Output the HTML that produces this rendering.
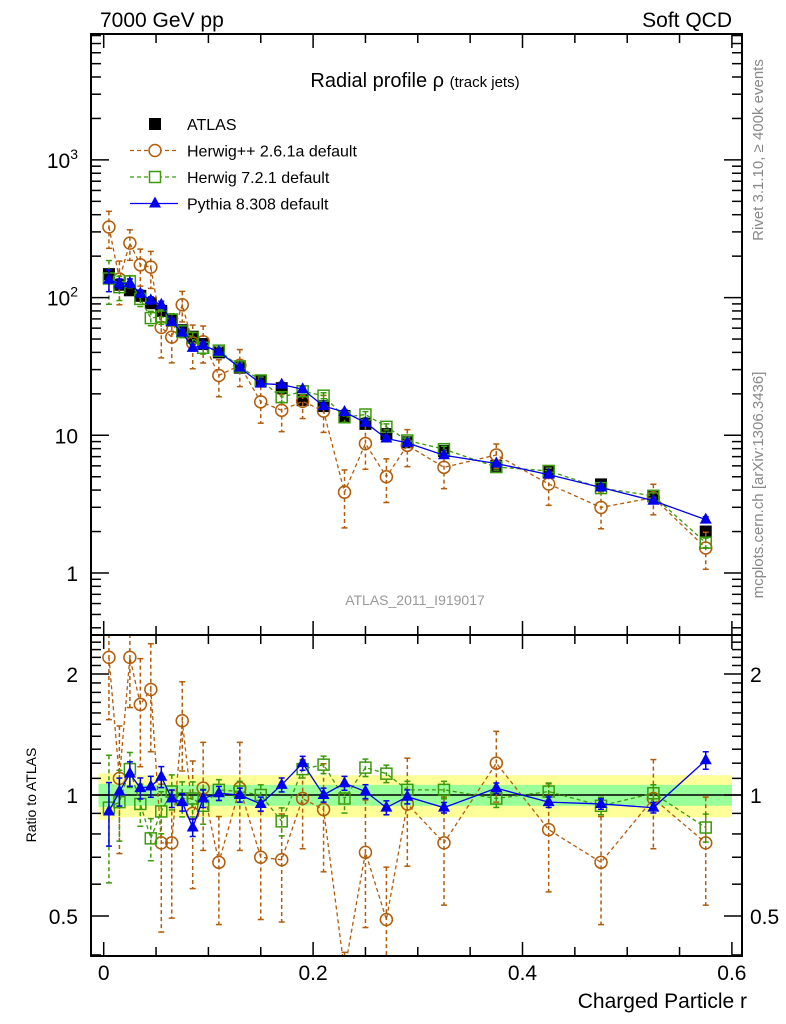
<!DOCTYPE html>
<html><head><meta charset="utf-8"><style>
html,body{margin:0;padding:0;background:#fff;width:786px;height:1024px;overflow:hidden;}
svg{display:block;font-family:"Liberation Sans",sans-serif;}
</style></head><body>
<svg id="c" width="786" height="1024" xmlns="http://www.w3.org/2000/svg">
<text x="100" y="27" font-size="21">7000 GeV pp</text>
<text x="732" y="27" font-size="21" text-anchor="end">Soft QCD</text>
<text x="415" y="87" font-size="20" text-anchor="middle">Radial profile ρ <tspan font-size="15">(track jets)</tspan></text>
<text x="415" y="605" font-size="14" fill="#999" text-anchor="middle">ATLAS_2011_I919017</text>
<text transform="translate(763,150) rotate(-90)" font-size="15" fill="#888" text-anchor="middle">Rivet 3.1.10, ≥ 400k events</text>
<text transform="translate(763,485) rotate(-90)" font-size="15" fill="#888" text-anchor="middle">mcplots.cern.ch [arXiv:1306.3436]</text>
<text transform="translate(36,795) rotate(-90)" font-size="14" text-anchor="middle">Ratio to ATLAS</text>
<text x="747" y="1008" font-size="21" text-anchor="end">Charged Particle r</text>
<g id="g"></g>
</svg>
<script>
const rBins=[0.005,0.015,0.025,0.035,0.045,0.055,0.065,0.075,0.085,0.095,0.11,0.13,0.15,0.17,0.19,0.21,0.23,0.25,0.27,0.29,0.325,0.375,0.425,0.475,0.525,0.575];
const atlasVals=[148,124,113,103,91,80,68,58,52,46,40,31,25,22,18,16.3,13.8,12.1,10.2,8.9,7.7,6.0,5.4,4.4,3.6,2.0];
const atlasErr=[0.08,0.05,0.04,0.04,0.04,0.04,0.04,0.04,0.04,0.04,0.04,0.04,0.04,0.04,0.04,0.04,0.04,0.04,0.04,0.04,0.04,0.04,0.04,0.04,0.04,0.06];
const herwigppRatio=[2.2,1.1,2.2,1.68,1.83,0.76,0.76,1.53,0.9,1.04,0.68,1.04,0.7,0.69,0.98,0.92,0.28,0.72,0.49,0.95,0.76,1.2,0.82,0.68,0.98,0.76];
const herwigppErr=[0.3,0.35,0.25,0.3,0.3,0.4,0.35,0.25,0.35,0.3,0.3,0.3,0.3,0.3,0.25,0.3,0.45,0.35,0.35,0.3,0.3,0.2,0.3,0.3,0.25,0.3];
const herwig7Ratio=[0.93,0.96,1.16,0.95,0.78,0.91,1.02,0.98,0.98,0.94,1.03,1.02,1.0,0.86,1.16,1.19,0.98,1.17,1.13,1.03,1.03,0.98,1.02,0.94,1.01,0.83];
const herwig7Err=[0.35,0.2,0.1,0.12,0.12,0.12,0.1,0.1,0.1,0.1,0.06,0.06,0.06,0.08,0.05,0.05,0.08,0.05,0.05,0.05,0.05,0.05,0.05,0.05,0.05,0.08];
const pythiaRatio=[0.91,1.02,1.13,1.04,1.05,1.11,0.98,0.96,0.83,0.98,1.01,1.0,0.95,1.06,1.2,1.0,1.07,1.02,0.93,0.99,0.93,1.04,0.96,0.95,0.93,1.22];
const pythiaErr=[0.18,0.08,0.07,0.06,0.06,0.06,0.05,0.05,0.05,0.05,0.04,0.04,0.04,0.04,0.04,0.04,0.04,0.04,0.04,0.04,0.03,0.03,0.03,0.03,0.03,0.05];
const bandYellow=0.12, bandGreen=0.06;
const xTicks=[0,0.2,0.4,0.6];
const mainTicks=[1,10,100,1000];
const ratioTicks=[0.5,1,2];

const NS="http://www.w3.org/2000/svg";
const g=document.getElementById('g');
const L=91,R=742,T1=34,B1=635,B2=956;
const X=r=>103.7+r*1047;
const Y1=v=>Math.min(Math.max(573-Math.log10(v)*137.7,T1-15),B1+15);
const Y2=v=>Math.min(Math.max(795-Math.log2(v)*121,B1-15),B2+15);
function el(tag,attrs,parent){const e=document.createElementNS(NS,tag);for(const k in attrs)e.setAttribute(k,attrs[k]);(parent||g).appendChild(e);return e;}
function clip(id,y0,y1){const d=el('defs',{});const c=el('clipPath',{id:id},d);el('rect',{x:L,y:y0,width:R-L,height:y1-y0},c);}
clip('c1',T1,B1);clip('c2',B1,B2);
const p1=el('g',{'clip-path':'url(#c1)'});


const p2=el('g',{'clip-path':'url(#c2)'});



function band(frac,color,name){
  let d='';
  rBins.forEach((r,i)=>{
    const lo=i==0?-0.005:(rBins[i-1]+r)/2, hi=i==rBins.length-1?0.6:(r+rBins[i+1])/2;
    const e=frac*(i==0?1.1:1);
    d+=`M${X(lo)},${Y2(1+e)}H${X(hi)}V${Y2(1-e)}H${X(lo)}Z`;
  });
  const b=el('path',{d:d,fill:color},p2);
  
  
}
band(bandYellow,'#ffff99','uncertainty-band-outer');
band(bandGreen,'#99ff99','uncertainty-band-inner');
el('line',{x1:L,x2:R,y1:Y2(1),y2:Y2(1),stroke:'#000','stroke-width':1.5},p2);

function series(parent,Yf,vals,errs,color,dash,marker,name){
  const grp=el('g',{},parent);
  
  
  const pts=rBins.map((r,i)=>[X(r),Yf(vals[i])]);
  if(marker!=='sq-fill'){
    el('polyline',{points:pts.map(p=>p.join(',')).join(' '),fill:'none',stroke:color,'stroke-width':1.3,'stroke-dasharray':dash},grp);
  }
  rBins.forEach((r,i)=>{
    const x=X(r),v=vals[i],e=errs[i];
    const y0=Yf(v*(1+e)),y1=Yf(Math.max(v*(1-e),1e-3));
    el('line',{x1:x,x2:x,y1:y0,y2:y1,stroke:color,'stroke-width':1.5,'stroke-dasharray':dash},grp);
    el('line',{x1:x-3,x2:x+3,y1:y0,y2:y0,stroke:color,'stroke-width':1.5},grp);
    el('line',{x1:x-3,x2:x+3,y1:y1,y2:y1,stroke:color,'stroke-width':1.5},grp);
    const y=Yf(v);
    let m;
    if(marker==='circle')m=el('circle',{cx:x,cy:y,r:6,fill:'none',stroke:color,'stroke-width':1.5},grp);
    else if(marker==='sq')m=el('rect',{x:x-5.5,y:y-5.5,width:11,height:11,fill:'none',stroke:color,'stroke-width':1.5},grp);
    else if(marker==='sq-fill')m=el('rect',{x:x-6,y:y-6,width:12,height:12,fill:'#000'},grp);
    else m=el('polygon',{points:`${x},${y-7} ${x-6},${y+4} ${x+6},${y+4}`,fill:color},grp);
    
    
  });
}
series(p1,Y1,atlasVals,atlasErr,'#000','none','sq-fill','atlas-data');
series(p1,Y1,atlasVals.map((a,i)=>a*herwigppRatio[i]),herwigppErr,'#b25c0a','4,3','circle','herwigpp-series');
series(p1,Y1,atlasVals.map((a,i)=>a*herwig7Ratio[i]),herwig7Err,'#3a9a0a','4,3','sq','herwig7-series');
series(p1,Y1,atlasVals.map((a,i)=>a*pythiaRatio[i]),pythiaErr,'#0000ee','none','tri','pythia-series');
series(p2,Y2,herwigppRatio,herwigppErr,'#b25c0a','4,3','circle','herwigpp-ratio');
series(p2,Y2,herwig7Ratio,herwig7Err,'#3a9a0a','4,3','sq','herwig7-ratio');
series(p2,Y2,pythiaRatio,pythiaErr,'#0000ee','none','tri','pythia-ratio');

[[T1,B1],[B1,B2]].forEach(([a,b])=>el('rect',{x:L,y:a,width:R-L,height:b-a,fill:'none',stroke:'#000','stroke-width':2}));
for(let k=0;k<=12;k++){const r=k*0.05,x=X(r),len=(k%4==0)?14:9;
  [T1,B1].forEach(y=>{el('line',{x1:x,x2:x,y1:y,y2:y+len,stroke:'#000','stroke-width':1.5});});
  [B1,B2].forEach(y=>{el('line',{x1:x,x2:x,y1:y,y2:y-len,stroke:'#000','stroke-width':1.5});});
}
xTicks.forEach(r=>{const t=el('text',{x:X(r),y:980,'font-size':21,'text-anchor':'middle'});t.textContent=String(r);
  
  });
const Y1raw=v=>573-Math.log10(v)*137.7;
const Y2raw=v=>795-Math.log2(v)*121;
for(let d=-1;d<=3;d++)for(let m=1;m<=9;m++){const v=m*Math.pow(10,d),y=Y1raw(v);if(y<T1||y>B1)continue;const len=m==1?18:10;
  el('line',{x1:L,x2:L+len,y1:y,y2:y,stroke:'#000','stroke-width':1.5});el('line',{x1:R,x2:R-len,y1:y,y2:y,stroke:'#000','stroke-width':1.5});}
mainTicks.forEach(v=>{const y=Y1raw(v);const t=el('text',{x:78,y:y+8,'font-size':21,'text-anchor':'end'});
  if(v>=100){t.textContent='10';const s=el('tspan',{'font-size':14,dy:-9},t);s.textContent=String(Math.log10(v));}else t.textContent=String(v);
  
  });
for(let k=4;k<=24;k++){const v=k/10,y=Y2raw(v);if(y<B1||y>B2)continue;const len=(v==0.5||v==1||v==2)?18:10;
  el('line',{x1:L,x2:L+len,y1:y,y2:y,stroke:'#000','stroke-width':1.5});el('line',{x1:R,x2:R-len,y1:y,y2:y,stroke:'#000','stroke-width':1.5});}
ratioTicks.forEach(v=>{const y=Y2raw(v);
  const t=el('text',{x:78,y:y+8,'font-size':21,'text-anchor':'end'});t.textContent=String(v);
  
  
  const t2=el('text',{x:750,y:y+8,'font-size':21});t2.textContent=String(v);
  
  });
const leg=[['ATLAS','#000','none','sq-fill'],['Herwig++ 2.6.1a default','#b25c0a','4,3','circle'],['Herwig 7.2.1 default','#3a9a0a','4,3','sq'],['Pythia 8.308 default','#0000ee','none','tri']];
leg.forEach((l,i)=>{const y=124+i*26.5,cx=155;
  const grp=el('g',{});
  
  
  if(l[3]!=='sq-fill')el('line',{x1:130,x2:178,y1:y,y2:y,stroke:l[1],'stroke-width':1.3,'stroke-dasharray':l[2]},grp);
  if(l[3]==='sq-fill')el('rect',{x:cx-6,y:y-6,width:12,height:12,fill:'#000'},grp);
  else if(l[3]==='circle')el('circle',{cx:cx,cy:y,r:6,fill:'#fff',stroke:l[1],'stroke-width':1.5},grp);
  else if(l[3]==='sq')el('rect',{x:cx-5.5,y:y-5.5,width:11,height:11,fill:'#fff',stroke:l[1],'stroke-width':1.5},grp);
  else el('polygon',{points:`${cx},${y-7} ${cx-6},${y+4} ${cx+6},${y+4}`,fill:l[1]},grp);
  const t=el('text',{x:187,y:y+6,'font-size':16},grp);t.textContent=l[0];});
</script>
</body></html>
